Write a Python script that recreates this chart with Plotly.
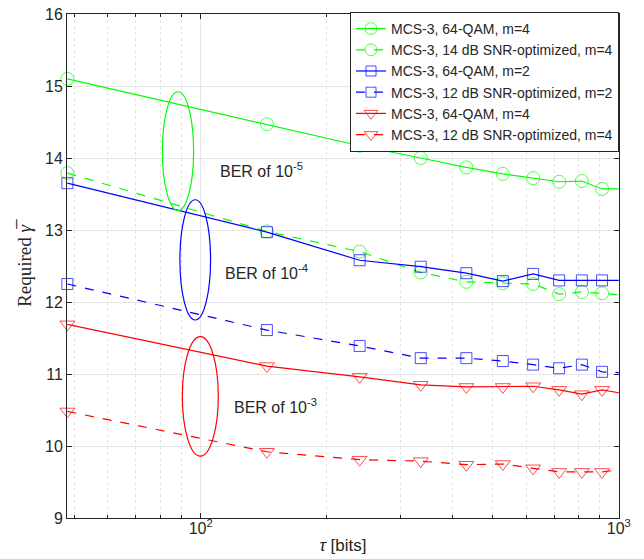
import numpy as np
import plotly.graph_objects as go

# data
tau = [48, 144, 240, 336, 432, 528, 624, 720, 816, 912, 1000]

g_qam_m4 = [15.10, 14.47, 14.17, 14.00, 13.87, 13.78, 13.72, 13.67, 13.68, 13.57, 13.57]
g_opt14_m4 = [13.79, 12.98, 12.70, 12.41, 12.28, 12.26, 12.25, 12.11, 12.14, 12.12, 12.10]
b_qam_m2 = [13.65, 12.97, 12.58, 12.49, 12.40, 12.29, 12.39, 12.30, 12.30, 12.30, 12.30]
b_opt12_m2 = [12.25, 11.61, 11.39, 11.22, 11.22, 11.18, 11.13, 11.08, 11.13, 11.03, 11.02]
r_qam_m4 = [11.69, 11.11, 10.96, 10.85, 10.82, 10.82, 10.83, 10.78, 10.72, 10.78, 10.74]
r_opt12_m4 = [10.48, 9.92, 9.81, 9.79, 9.74, 9.75, 9.69, 9.64, 9.64, 9.64, 9.67]

names = [
    "MCS-3, 64-QAM, m=4",
    "MCS-3, 14 dB SNR-optimized, m=4",
    "MCS-3, 64-QAM, m=2",
    "MCS-3, 12 dB SNR-optimized, m=2",
    "MCS-3, 64-QAM, m=4",
    "MCS-3, 12 dB SNR-optimized, m=4",
]

minor_x = [50, 60, 70, 80, 90, 200, 300, 400, 500, 600, 700, 800, 900]

GREEN, BLUE, RED = "#00ff00", "#0000ff", "#ff0000"
AX = "#262626"


def add_curve(fig, y, name, color, dash, symbol, size):
    # last point (tau=1000) only continues the line, no marker drawn
    sizes = [size] * (len(tau) - 1) + [0]
    fig.add_trace(go.Scatter(
        x=tau, y=y, name=name, mode="lines+markers",
        line=dict(color=color, width=1.2, dash=dash),
        marker=dict(symbol=symbol, size=sizes, color=color,
                    line=dict(color=color, width=1)),
        cliponaxis=False))


fig = go.Figure()
add_curve(fig, g_qam_m4, names[0], GREEN, "solid", "circle-open", 13)
add_curve(fig, g_opt14_m4, names[1], GREEN, "dash", "circle-open", 13)
add_curve(fig, b_qam_m2, names[2], BLUE, "solid", "square-open", 11)
add_curve(fig, b_opt12_m2, names[3], BLUE, "dash", "square-open", 11)
add_curve(fig, r_qam_m4, names[4], RED, "solid", "triangle-down-open", 13)
add_curve(fig, r_opt12_m4, names[5], RED, "dash", "triangle-down-open", 13)

# ellipses grouping the BER levels
ellipses = [
    (81, 96.2, 13.27, 14.92, GREEN),
    (89.2, 105.6, 11.75, 13.42, BLUE),
    (90.4, 110.2, 9.86, 11.52, RED),
]
for x0, x1, y0, y1, c in ellipses:
    fig.add_shape(type="circle", xref="x", yref="y", x0=x0, x1=x1,
                  y0=y0, y1=y1, line=dict(color=c, width=1.2))

labels = [(110, 13.83, "-5"), (113, 12.42, "-4"), (119, 10.56, "-3")]
for xv, yv, e in labels:
    fig.add_annotation(x=np.log10(xv), y=yv, xref="x", yref="y",
                       text="BER of 10<sup>" + e + "</sup>", showarrow=False,
                       xanchor="left", yanchor="middle",
                       font=dict(family="Liberation Sans", size=16, color=AX))

fig.update_layout(
    width=644, height=559,
    margin=dict(l=67, r=25, t=14, b=41, autoexpand=False),
    paper_bgcolor="white", plot_bgcolor="white",
    font=dict(family="Liberation Sans", size=16, color=AX),
    showlegend=True,
    legend=dict(x=1, y=1.004, xanchor="right", yanchor="top",
                bgcolor="white", bordercolor=AX, borderwidth=1,
                font=dict(family="Liberation Sans", size=14, color=AX),
                tracegroupgap=0),
)

fig.update_xaxes(
    type="log", range=[np.log10(47.9), 3.0005],
    tickvals=[100, 1000], ticktext=["10<sup>2</sup>", "10<sup>3</sup>"],
    ticks="inside", ticklen=5, tickcolor=AX, ticklabelstandoff=-4,
    showline=True, linecolor=AX, linewidth=1, mirror="ticks",
    showgrid=True, gridcolor="#e6e6e6", gridwidth=1,
    minor=dict(tickvals=minor_x, ticks="inside", ticklen=3, tickcolor=AX,
               showgrid=True, gridcolor="#e3e3e3", griddash="dot"),
    zeroline=False, automargin=False,
    title=dict(text="<i>τ</i> [bits]", standoff=2,
               font=dict(family="Liberation Sans", size=17, color=AX)),
)

fig.update_yaxes(
    range=[9, 16], dtick=1,
    ticks="inside", ticklen=5, tickcolor=AX,
    showline=True, linecolor=AX, linewidth=1, mirror="ticks",
    showgrid=True, gridcolor="#e6e6e6", gridwidth=1,
    zeroline=False, automargin=False,
    title=dict(text="Required <i>γ\u0305</i>", standoff=8,
               font=dict(family="Liberation Serif", size=19, color=AX)),
)

# the page's default body margin would shift the figure by 8px
fig.write_html("out.html", config={"displayModeBar": False},
               post_script="document.body.style.margin='0';")
